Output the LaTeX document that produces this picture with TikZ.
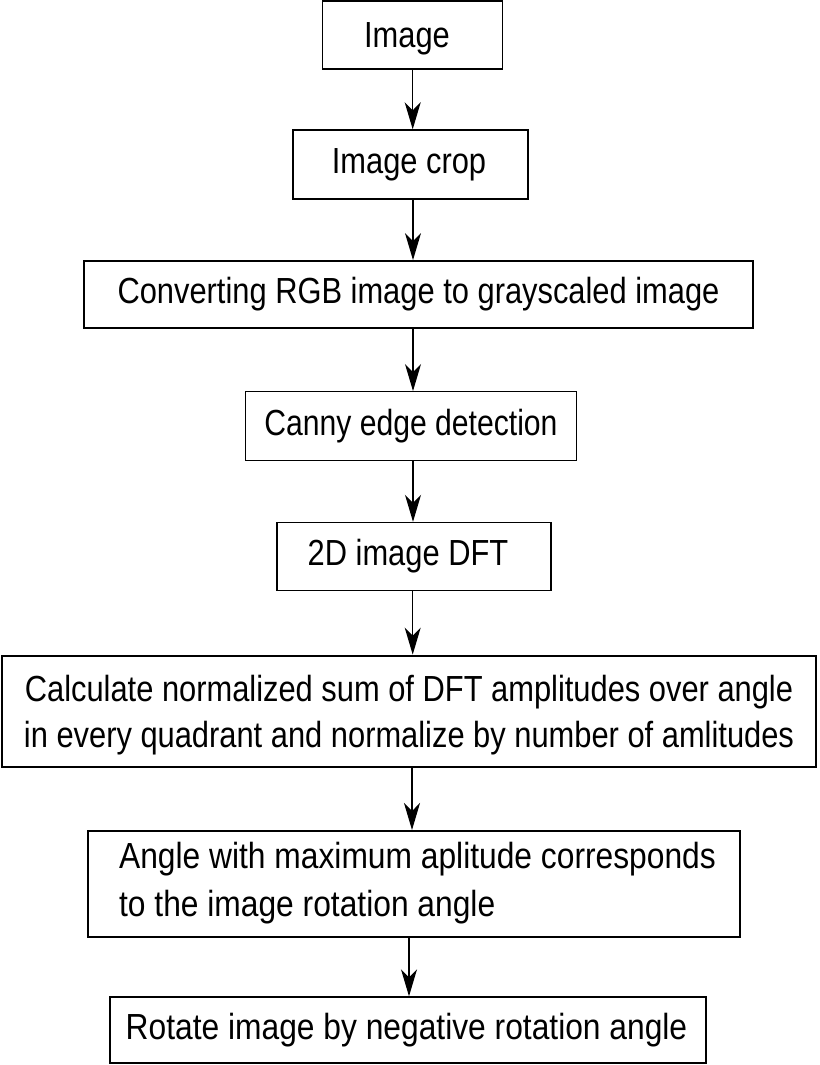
\documentclass[tikz,border=0pt]{standalone}
\usepackage{fontspec}
\setmainfont{Liberation Sans}[FakeStretch=0.85]
\newfontfamily\narrowfont{Liberation Sans}[FakeStretch=0.83]
\newfontfamily\widefont{Liberation Sans}[FakeStretch=0.875]
\usetikzlibrary{arrows.meta}
\begin{document}
\begin{tikzpicture}[x=1pt,y=-1pt,
  box/.style={draw, line width=1.4pt, inner sep=0pt, align=center,
    font=\fontsize{36.3}{46.5}\selectfont},
  arr/.style={line width=1.3pt, -{Stealth[length=27pt,width=16pt,inset=8pt]}}]
\useasboundingbox (0,0) rectangle (819,1065);
\node[box, minimum width=180pt, minimum height=68pt, text height=26pt, text depth=0pt] (b1) at (412.5,35) {\hspace*{-11pt}Image};
\node[box, minimum width=235pt, minimum height=69pt] (b2) at (410.5,164.5) {\hspace*{-3pt}Image crop};
\node[box, line width=1.8pt, minimum width=669pt, minimum height=67pt] (b3) at (418.5,294.5) {Converting RGB image to grayscaled image};
\node[box, minimum width=331pt, minimum height=68.5pt, font=\narrowfont\fontsize{36.3}{46.5}\selectfont] (b4) at (411,426) {Canny edge detection};
\node[box, minimum width=274pt, minimum height=68pt] (b5) at (414,556.5) {\hspace*{-12pt}2D image DFT};
\node[box, line width=2.8pt, minimum width=814pt, minimum height=111pt, text depth=0pt] (b6) at (409,711.5)
  {Calculate normalized sum of DFT amplitudes over angle\\in every quadrant and normalize by number of amlitudes};
\node[box, line width=2pt, align=left, minimum width=652.5pt, minimum height=106pt, text depth=10pt,
  font=\widefont\fontsize{36.3}{48}\selectfont] (b7) at (413.75,884)
  {\hspace*{7.5pt}Angle with maximum aplitude corresponds\\\hspace*{7.5pt}to the image rotation angle};
\node[box, minimum width=596pt, minimum height=66pt, font=\widefont\fontsize{36.3}{46.5}\selectfont] (b8) at (408,1030) {\hspace*{-3pt}Rotate image by negative rotation angle};
\coordinate (k1) at (412.7,0);
\coordinate (k2) at (413,0);
\coordinate (k3) at (413,0);
\coordinate (k4) at (413,0);
\coordinate (k5) at (412.7,0);
\coordinate (k6) at (412,0);
\coordinate (k7) at (409,0);
\draw[arr] (b1.south -| k1) -- (b2.north -| k1);
\draw[arr] (b2.south -| k2) -- (b3.north -| k2);
\draw[arr] (b3.south -| k3) -- (b4.north -| k3);
\draw[arr] (b4.south -| k4) -- (b5.north -| k4);
\draw[arr] (b5.south -| k5) -- (b6.north -| k5);
\draw[arr] (b6.south -| k6) -- (b7.north -| k6);
\draw[arr] (b7.south -| k7) -- (b8.north -| k7);
\end{tikzpicture}
\end{document}
